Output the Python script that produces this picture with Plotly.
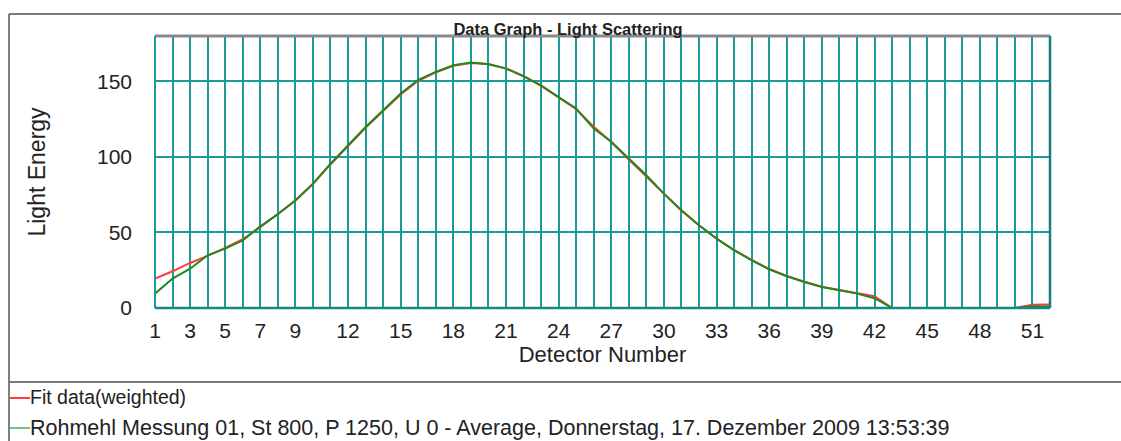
import plotly.graph_objects as go

# Detector channels and light energy readings
detectors = list(range(1, 53))

measured = [9.5, 19.5, 26.0, 34.9, 39.3, 44.8, 54.0, 62.0, 71.3, 82.3,
            95.5, 107.7, 119.8, 130.8, 141.9, 151.0, 156.2, 160.6, 162.4, 161.3,
            158.4, 153.3, 147.4, 139.6, 132.0, 118.7, 110.0, 99.0, 87.8, 75.7,
            64.7, 54.7, 45.9, 38.2, 31.6, 25.6, 21.0, 17.2, 13.9, 11.7,
            9.5, 6.5, 0, 0, 0, 0, 0, 0, 0, 0,
            1.1, 1.0]

fit_weighted = [19.5, 24.3, 29.8, 34.5, 39.8, 45.5, 53.5, 62.5, 71.0, 82.0,
                95.0, 107.2, 119.3, 130.4, 141.3, 150.4, 156.0, 160.3, 162.2, 161.4,
                158.6, 153.6, 147.0, 139.4, 131.5, 120.0, 109.8, 98.2, 86.8, 75.2,
                64.4, 54.7, 46.0, 38.4, 31.8, 25.8, 21.2, 17.4, 14.1, 11.9,
                9.9, 7.8, 0, 0, 0, 0, 0, 0, 0, 0,
                2.2, 2.3]

labelled_detectors = [1, 3, 5, 7, 9, 12, 15, 18, 21, 24, 27, 30, 33, 36, 39, 42, 45, 48, 51]
x_tick_text = [str(d) if d in labelled_detectors else "" for d in detectors]
y_ticks = [0, 50, 100, 150]

fit_name = "Fit data(weighted)"
measured_name = ("Rohmehl Messung 01, St 800, P 1250, U 0 - Average, "
                 "Donnerstag, 17. Dezember 2009 13:53:39")

RED = "#ff3b3b"
GREEN = "#1e8a1e"
GRID = "#1b9a9a"
FONT = "Liberation Sans, Arial, sans-serif"

W, H = 1121, 441
ML, MR, MT, MB = 155, 71, 36, 133
PW, PH = W - ML - MR, H - MT - MB


def px(xp):
    return (xp - ML) / PW


def py(yp):
    return 1 - (yp - MT) / PH


fig = go.Figure()
fig.add_trace(go.Scatter(x=detectors, y=fit_weighted, mode="lines", name=fit_name,
                         line=dict(color=RED, width=2), showlegend=False))
fig.add_trace(go.Scatter(x=detectors, y=measured, mode="lines", name=measured_name,
                         line=dict(color=GREEN, width=2), showlegend=False))

fig.update_xaxes(range=[1, 52], tickvals=detectors, ticktext=x_tick_text,
                 showgrid=True, gridcolor=GRID, gridwidth=1.5,
                 zeroline=False, showline=False, ticks="",
                 ticklabelstandoff=8,
                 tickfont=dict(family=FONT, size=21, color="#222"),
                 title=dict(text="Detector Number", standoff=5,
                            font=dict(family=FONT, size=22, color="#222")))
fig.update_yaxes(range=[0, 180], tickvals=y_ticks,
                 showgrid=True, gridcolor=GRID, gridwidth=1.5,
                 zeroline=False, showline=False, ticks="",
                 ticklabelstandoff=22,
                 tickfont=dict(family=FONT, size=21, color="#222"),
                 title=dict(text="Light Energy", standoff=44,
                            font=dict(family=FONT, size=23, color="#222")))

shapes = [
    # plot frame
    dict(type="line", xref="paper", yref="paper", x0=0, x1=1, y0=1, y1=1,
         line=dict(color="#8a8a8a", width=3)),
    dict(type="line", xref="paper", yref="paper", x0=0, x1=0, y0=0, y1=1,
         line=dict(color=GRID, width=2)),
    dict(type="line", xref="paper", yref="paper", x0=1, x1=1, y0=0, y1=1,
         line=dict(color="#137e7e", width=2.5)),
    dict(type="line", xref="paper", yref="paper", x0=0, x1=1, y0=0, y1=0,
         line=dict(color="#138a8a", width=2.5)),
    # outer box and legend separator
    dict(type="line", xref="paper", yref="paper", x0=px(9), x1=px(W + 5), y0=py(14), y1=py(14),
         line=dict(color="#7a7a7a", width=2)),
    dict(type="line", xref="paper", yref="paper", x0=px(9), x1=px(9), y0=py(14), y1=py(H + 5),
         line=dict(color="#555555", width=1.5)),
    dict(type="line", xref="paper", yref="paper", x0=px(9), x1=px(W + 5), y0=py(382), y1=py(382),
         line=dict(color="#7a7a7a", width=2)),
    # legend keys
    dict(type="line", xref="paper", yref="paper", x0=px(10), x1=px(30), y0=py(398), y1=py(398),
         line=dict(color=RED, width=2)),
    dict(type="line", xref="paper", yref="paper", x0=px(10), x1=px(30), y0=py(428), y1=py(428),
         line=dict(color="#4caf4c", width=1.5)),
]

annotations = [
    dict(text=fit_name, xref="paper", yref="paper", x=px(28), y=py(397),
         xanchor="left", yanchor="middle", showarrow=False,
         font=dict(family=FONT, size=19.5, color="#222")),
    dict(text=measured_name, xref="paper", yref="paper", x=px(28), y=py(428),
         xanchor="left", yanchor="middle", showarrow=False,
         font=dict(family=FONT, size=21.5, color="#222")),
]

fig.update_layout(
    width=W, height=H,
    margin=dict(l=ML, r=MR, t=MT, b=MB, autoexpand=False),
    paper_bgcolor="white", plot_bgcolor="white",
    title=dict(text="<b>Data Graph - Light Scattering</b>", x=568 / W, xref="container",
               xanchor="center", y=1 - 29 / H, yref="container", yanchor="middle",
               font=dict(family=FONT, size=16.5, color="#222")),
    shapes=shapes, annotations=annotations,
    showlegend=False,
)

fig.write_html("out.html")
